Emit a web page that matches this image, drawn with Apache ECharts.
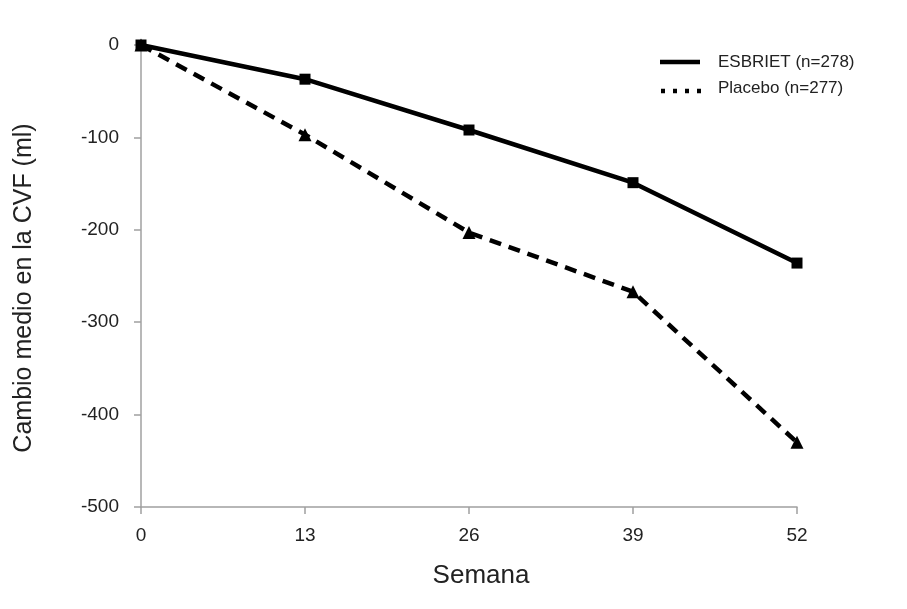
<!DOCTYPE html>
<html><head><meta charset="utf-8">
<script src="https://cdn.jsdelivr.net/npm/echarts@6/dist/echarts.min.js"></script>
<style>html,body{margin:0;padding:0;background:#fff}#c{width:907px;height:609px}</style>
</head><body><div id="c"></div>
<script>
const weeks = [0, 13, 26, 39, 52];
const esbriet = [0, -37, -92, -149, -236];
const placebo = [0, -97, -203, -267, -430];
const yTicks = [0, -100, -200, -300, -400, -500];
const seriesNames = ['ESBRIET (n=278)', 'Placebo (n=277)'];

const chart = echarts.init(document.getElementById('c'));
const font = '"Liberation Sans", Arial, sans-serif';
chart.setOption({
  animation: false,
  grid: { left: 141, top: 45, right: 110, bottom: 102 },
  xAxis: {
    type: 'value', min: 0, max: 52, interval: 13,
    name: 'Semana', nameLocation: 'middle', nameGap: 56,
    nameTextStyle: { fontFamily: font, fontSize: 26, color: '#222', padding: [0, 0, 0, 24] },
    axisLine: { show: true, onZero: false, lineStyle: { color: '#a0a0a0', width: 1.5 } },
    axisTick: { show: true, length: 7, lineStyle: { color: '#a0a0a0', width: 1.5 } },
    axisLabel: { fontFamily: font, fontSize: 19, color: '#222', margin: 19 },
    splitLine: { show: false }
  },
  yAxis: {
    type: 'value', min: -500, max: 0, interval: 100,
    name: 'Cambio medio en la CVF (ml)', nameLocation: 'middle', nameGap: 104, nameRotate: 90,
    nameTextStyle: { fontFamily: font, fontSize: 25, color: '#222', padding: [0, 24, 0, 0] },
    axisLine: { show: true, lineStyle: { color: '#a0a0a0', width: 1.5 } },
    axisTick: { show: true, length: 7, lineStyle: { color: '#a0a0a0', width: 1.5 } },
    axisLabel: { fontFamily: font, fontSize: 19, color: '#222', margin: 22,
      formatter: v => yTicks.includes(v) ? String(v) : '' },
    splitLine: { show: false }
  },
  series: [
    { name: seriesNames[0], type: 'line', data: weeks.map((w, i) => [w, esbriet[i]]),
      symbol: 'rect', symbolSize: 11, itemStyle: { color: '#000' },
      lineStyle: { color: '#000', width: 4.5 }, z: 3 },
    { name: seriesNames[1], type: 'line', data: weeks.map((w, i) => [w, placebo[i]]),
      symbol: 'triangle', symbolSize: 13, itemStyle: { color: '#000' },
      lineStyle: { color: '#000', width: 4.5, type: [12, 8] }, z: 2 }
  ],
  graphic: [
    { type: 'line', shape: { x1: 660, y1: 62, x2: 700, y2: 62 }, style: { stroke: '#000', lineWidth: 4.5 } },
    { type: 'line', shape: { x1: 661, y1: 91, x2: 701, y2: 91 }, style: { stroke: '#000', lineWidth: 4.5, lineDash: [4, 8] } },
    { type: 'text', x: 718, y: 62, style: { text: seriesNames[0], font: '17px ' + font, fill: '#222', verticalAlign: 'middle' } },
    { type: 'text', x: 718, y: 88, style: { text: seriesNames[1], font: '17px ' + font, fill: '#222', verticalAlign: 'middle' } }
  ]
});
</script></body></html>
